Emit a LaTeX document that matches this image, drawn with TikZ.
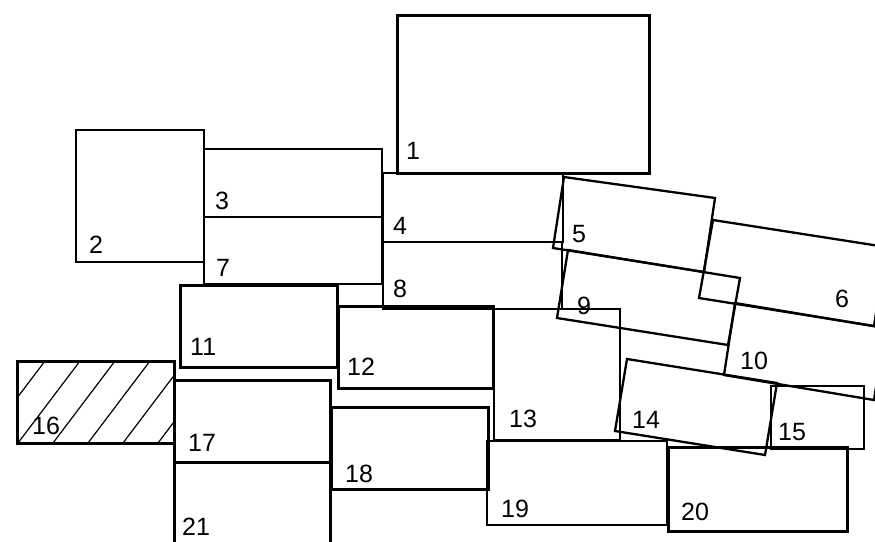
\documentclass[tikz,border=0pt]{standalone}
\usepackage{fontspec}
\setmainfont{Liberation Sans}
\usepackage{tikz}

\begin{document}
\begin{tikzpicture}[x=1pt, y=-1pt,
  plate/.style={draw, line width=2.3pt},
  heavy/.style={draw, line width=3pt},
  hatch/.style={draw, line width=1.2pt},
  num/.style={anchor=base west, inner sep=0pt, font=\fontsize{25}{30}\selectfont}]
  \useasboundingbox (0,0) rectangle (875,541);
  \clip (0,0) rectangle (875,541);
  % upright plates
  \draw[heavy] (397,15) rectangle (649,173);
  \draw[plate] (76,130) rectangle (204,262);
  \draw[plate] (204,149) rectangle (382,217);
  \draw[plate] (204,217) rectangle (382,284);
  \draw[plate] (383,173) rectangle (563,242);
  \draw[plate] (383,242) rectangle (562,309);
  \draw[heavy] (180,285) rectangle (337,367);
  \draw[heavy] (338,306) rectangle (493,388);
  \draw[plate] (494,309) rectangle (620,440);
  \draw[plate] (771,386) rectangle (864,449);
  \draw[heavy] (174,380) rectangle (330,462);
  \draw[heavy] (331,407) rectangle (488,489);
  \draw[plate] (487,441) rectangle (667,525);
  \draw[heavy] (668,447) rectangle (847,531);
  \draw[heavy] (174,462) rectangle (330,570);
  % tilted plates
  \draw[plate] (564,177) -- (715,198) -- (704,272) -- (553,248) -- cycle;
  \draw[plate] (713,220) -- (886,247) -- (874,326) -- (699,298) -- cycle;
  \draw[plate] (568,250) -- (740,278) -- (728,345) -- (557,318) -- cycle;
  \draw[plate] (735,303) -- (885,328) -- (874,400) -- (724,375) -- cycle;
  \draw[plate] (627,359) -- (777,383) -- (765,455) -- (615,431) -- cycle;
  % hatched plate
  \begin{scope}
    \clip (17,361) rectangle (174,443);
    \draw[hatch] (-17,443) -- ++(62,-82);
    \draw[hatch] (18,443) -- ++(62,-82);
    \draw[hatch] (53,443) -- ++(62,-82);
    \draw[hatch] (88,443) -- ++(62,-82);
    \draw[hatch] (123,443) -- ++(62,-82);
    \draw[hatch] (158,443) -- ++(62,-82);
  \end{scope}
  \draw[heavy] (17,361) rectangle (174,443);
  % numbers
  \node[num] (n1) at (406,159) {1};
  \node[num] (n2) at (89,253) {2};
  \node[num] (n3) at (215,209) {3};
  \node[num] (n4) at (393,234) {4};
  \node[num] (n5) at (572,242) {5};
  \node[num] (n6) at (835,307) {6};
  \node[num] (n7) at (216,276) {7};
  \node[num] (n8) at (393,297) {8};
  \node[num] (n9) at (577,314) {9};
  \node[num] (n10) at (740,369) {10};
  \node[num] (n11) at (190,355) {11};
  \node[num] (n12) at (347,375) {12};
  \node[num] (n13) at (509,427) {13};
  \node[num] (n14) at (632,428) {14};
  \node[num] (n15) at (778,440) {15};
  \node[num] (n16) at (32,434) {16};
  \node[num] (n17) at (188,451) {17};
  \node[num] (n18) at (345,482) {18};
  \node[num] (n19) at (501,517) {19};
  \node[num] (n20) at (681,520) {20};
  \node[num] (n21) at (182,535) {21};
\end{tikzpicture}
\end{document}
